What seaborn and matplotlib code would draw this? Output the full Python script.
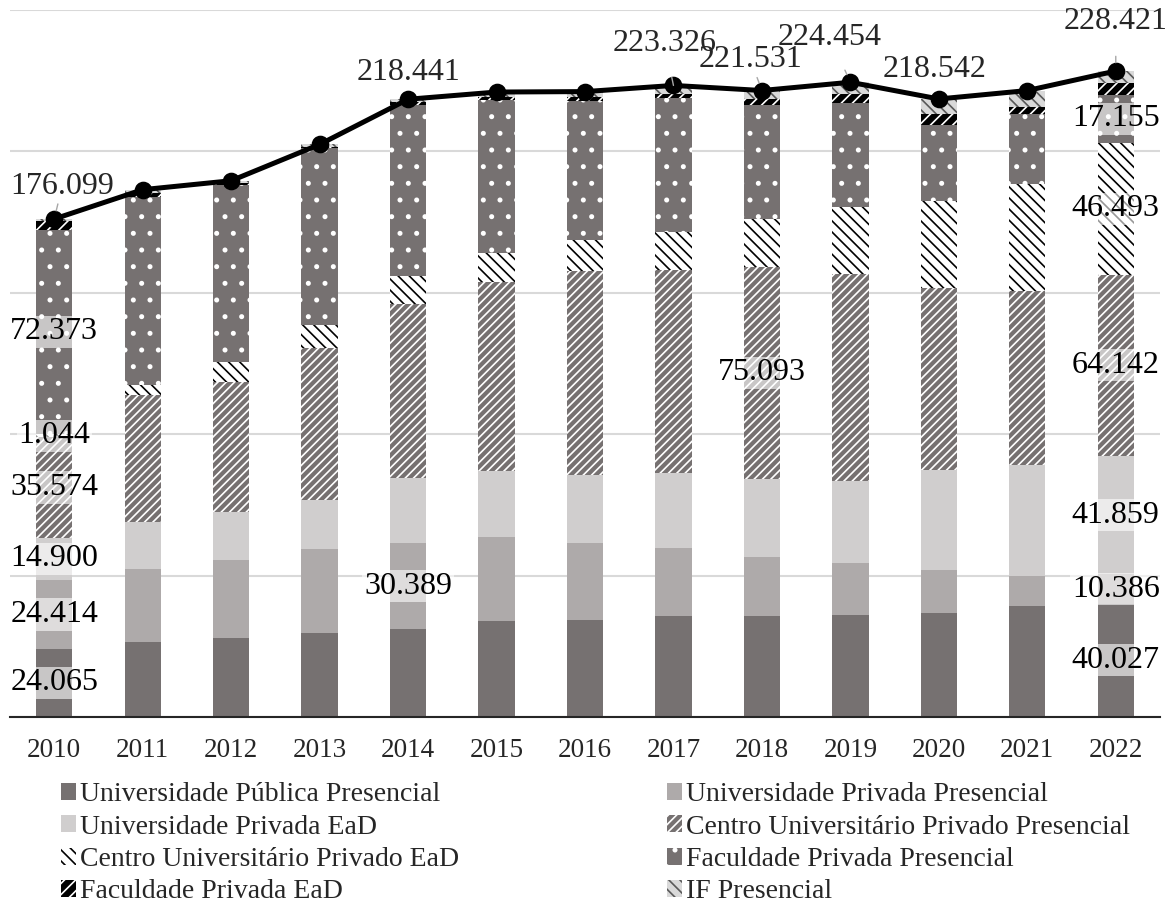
import matplotlib
matplotlib.use("Agg")
import matplotlib.pyplot as plt
from matplotlib.patches import Patch
import numpy as np
import seaborn as sns

# ---- data -------------------------------------------------------------
years = [str(y) for y in range(2010, 2023)]

univ_publica_pres = [24065, 26450, 27940, 29870, 31060, 33880, 34330, 35810, 35810, 36110, 36850, 39080, 40027]
univ_privada_pres = [24414, 26010, 27490, 29420, 30389, 29720, 27040, 23780, 20810, 18280, 15010, 10850, 10386]
univ_privada_ead = [14900, 16490, 17090, 17390, 22890, 23480, 24220, 26750, 27490, 28970, 35520, 39080, 41859]
centro_priv_pres = [35574, 44880, 46060, 53790, 61670, 66570, 72080, 71620, 75093, 73120, 64340, 61520, 64142]
centro_priv_ead = [1044, 3710, 6840, 8170, 9810, 10550, 11140, 13380, 17040, 23920, 30760, 37890, 46493]
faculdade_priv_pres = [72373, 66430, 62710, 62420, 60700, 54090, 49040, 47550, 40120, 36700, 26750, 24970, 17155]
faculdade_priv_ead = [2900, 1200, 700, 500, 800, 900, 1300, 1500, 2200, 3100, 4160, 2230, 4059]
if_pres = [829, 1300, 800, 900, 1122, 1800, 2000, 2936, 2968, 4254, 5152, 5900, 4300]

categories = [
    "Universidade Pública Presencial",
    "Universidade Privada Presencial",
    "Universidade Privada EaD",
    "Centro Universitário Privado Presencial",
    "Centro Universitário Privado EaD",
    "Faculdade Privada Presencial",
    "Faculdade Privada EaD",
    "IF Presencial",
]
series = [univ_publica_pres, univ_privada_pres, univ_privada_ead, centro_priv_pres,
          centro_priv_ead, faculdade_priv_pres, faculdade_priv_ead, if_pres]

# segments whose value is printed on the bar
segment_labels = {
    0: ["2010", "2022"],
    1: ["2010", "2014", "2022"],
    2: ["2010", "2022"],
    3: ["2010", "2018", "2022"],
    4: ["2010", "2022"],
    5: ["2010", "2022"],
}
# years whose total is printed above the line
total_label_years = ["2010", "2014", "2017", "2018", "2019", "2020", "2022"]

# ---- styles -------------------------------------------------------------
# (face colour, hatch, hatch colour)
styles = [
    ("#767171", "", "#767171"),
    ("#AEAAAA", "", "#AEAAAA"),
    ("#D0CECE", "", "#D0CECE"),
    ("#767171", "////", "white"),
    ("white", "\\\\\\", "black"),
    ("#767171", ".", "white"),
    ("black", "///", "white"),
    ("#D9D9D9", "\\\\\\", "#595959"),
]

sns.set_style("white")
plt.rcParams["font.family"] = ["Liberation Serif", "DejaVu Serif"]
plt.rcParams["hatch.linewidth"] = 1.2

FS = 23
fig = plt.figure(figsize=(11.72, 9.06), dpi=100)
ax = fig.add_axes([10 / 1172, 1 - 717 / 906, 1150 / 1172, 707 / 906])

vals = np.array(series, dtype=float)
cum = np.cumsum(vals, axis=0)
totals = cum[-1]
BAR_W = 0.41

# stacked bars: cumulative heights drawn from the top layer downwards
for i in range(len(categories) - 1, -1, -1):
    face, hatch, hcol = styles[i]
    n_before = len(ax.patches)
    sns.barplot(x=years, y=cum[i], color=face, saturation=1, width=BAR_W,
                errorbar=None, ax=ax)
    for p in ax.patches[n_before:]:
        p.set_facecolor(face)
        p.set_edgecolor(hcol)
        p.set_linewidth(0)
        if hatch:
            p.set_hatch(hatch)
            if hasattr(p, "set_hatchcolor"):
                p.set_hatchcolor(hcol)

# segment value labels
for i, yrs in segment_labels.items():
    for y in yrs:
        j = years.index(y)
        v = vals[i, j]
        mid = cum[i, j] - v / 2
        ax.text(j, mid, f"{int(v):,}".replace(",", "."), ha="center", va="center",
                fontsize=FS, color="black", zorder=6,
                bbox=dict(boxstyle="square,pad=0.05", fc="white", ec="none", alpha=0.6))

# total line
sns.pointplot(x=years, y=totals, color="black", markers="o", linestyles="-",
              errorbar=None, ax=ax, markersize=10, linewidth=3.6, zorder=5)

# total labels (label position offsets in category / value units)
total_offsets = {
    "2010": (0.09, 187700, True),
    "2014": (0.0, 227900, False),
    "2017": (-0.10, 238200, True),
    "2018": (-0.13, 232400, True),
    "2019": (-0.23, 240400, True),
    "2020": (-0.05, 229000, False),
    "2022": (0.0, 245800, True),
}
for y in total_label_years:
    j = years.index(y)
    dx, ty, leader = total_offsets[y]
    txt = f"{int(totals[j]):,}".replace(",", ".")
    if leader:
        ax.annotate(txt, xy=(j, totals[j]), xytext=(j + dx, ty), ha="center", va="center",
                    fontsize=FS, zorder=7,
                    arrowprops=dict(arrowstyle="-", color="#A6A6A6", lw=1.0,
                                    shrinkA=12, shrinkB=6))
    else:
        ax.text(j + dx, ty, txt, ha="center", va="center", fontsize=FS, zorder=7)

# axes cosmetics
ax.set_xlim(-0.5, len(years) - 0.5)
ax.set_ylim(0, 250000)
ax.set_yticks(np.arange(0, 250001, 50000))
ax.yaxis.grid(True, color="#D9D9D9", lw=1.5)
ax.xaxis.grid(False)
ax.set_axisbelow(True)
ax.tick_params(axis="y", left=False, labelleft=False)
ax.tick_params(axis="x", length=0, pad=15, labelsize=19.5)
ax.set_xlabel("")
ax.set_ylabel("")
for s in ["top", "left", "right"]:
    ax.spines[s].set_visible(False)
ax.spines["bottom"].set_color("#262626")
ax.spines["bottom"].set_linewidth(1.5)

# legend in two columns
handles = [Patch(facecolor=f, edgecolor=hc, hatch=h, linewidth=0) for f, h, hc in styles]
left_idx = [0, 2, 4, 6]
right_idx = [1, 3, 5, 7]
leg_kw = dict(frameon=False, fontsize=20, handlelength=0.55, handleheight=0.55,
              handletextpad=0.15, labelspacing=0.27, borderpad=0, borderaxespad=0,
              loc="upper left")
fig.legend([handles[i] for i in left_idx], [categories[i] for i in left_idx],
           bbox_to_anchor=(61 / 1172, 1 - 782 / 906), **leg_kw)
fig.legend([handles[i] for i in right_idx], [categories[i] for i in right_idx],
           bbox_to_anchor=(667 / 1172, 1 - 782 / 906), **leg_kw)

fig.savefig("out.png", dpi=100)
